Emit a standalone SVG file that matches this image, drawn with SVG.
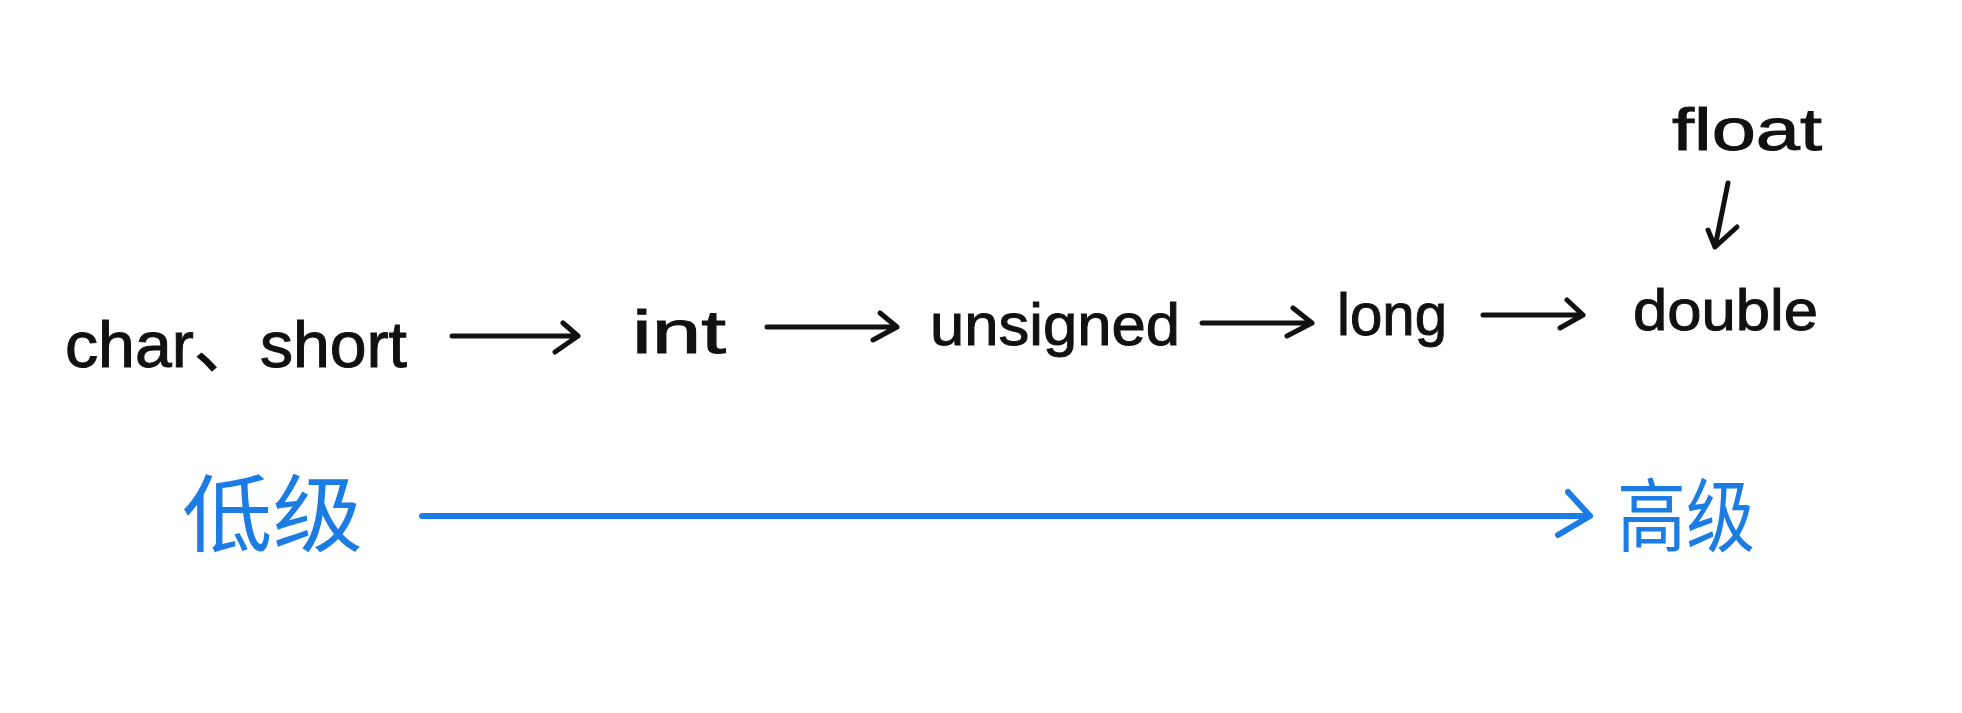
<svg xmlns="http://www.w3.org/2000/svg" width="1962" height="713" viewBox="0 0 1962 713">
<style>
.t{font-family:"Liberation Sans","Noto Sans CJK SC",sans-serif;fill:#111;stroke:#111;stroke-width:1;}
.c{font-family:"Noto Sans CJK SC","Liberation Sans",sans-serif;fill:#1b7ce4;}
.k{fill:none;stroke:#111;stroke-width:5;stroke-linecap:round;stroke-linejoin:round;}
.b{fill:none;stroke:#1b7ce4;stroke-width:6;stroke-linecap:round;stroke-linejoin:round;}
</style>
<rect width="1962" height="713" fill="#fff"/>
<g id="node-char-short"><text class="t" x="65" y="367" font-size="64" textLength="342" lengthAdjust="spacingAndGlyphs">char、short</text></g>
<g id="node-int"><text class="t" x="632" y="353" font-size="62" textLength="94" lengthAdjust="spacingAndGlyphs">int</text></g>
<g id="node-unsigned"><text class="t" x="930" y="345" font-size="60" textLength="250" lengthAdjust="spacingAndGlyphs">unsigned</text></g>
<g id="node-long"><text class="t" x="1337" y="335" font-size="60" textLength="110" lengthAdjust="spacingAndGlyphs">long</text></g>
<g id="node-double"><text class="t" x="1633" y="330" font-size="58" textLength="185" lengthAdjust="spacingAndGlyphs">double</text></g>
<g id="node-float"><text class="t" x="1672" y="150" font-size="60" textLength="150" lengthAdjust="spacingAndGlyphs">float</text></g>
<g id="node-low"><text class="c" x="182" y="545" font-size="84" textLength="181" lengthAdjust="spacingAndGlyphs">低级</text></g>
<g id="node-high"><text class="c" x="1617" y="545" font-size="80" textLength="138" lengthAdjust="spacingAndGlyphs">高级</text></g>
<g id="connectors">
<path class="k" d="M452,336 L578,336 M563,323 L578,336 L555,352"/>
<path class="k" d="M767,327 L897,327 M880,313 L897,327 L873,340"/>
<path class="k" d="M1202,323 L1312,323 M1293,308 L1312,323 L1287,336"/>
<path class="k" d="M1483,315 L1583,315 M1567,300 L1583,315 L1560,328"/>
<path class="k" d="M1728,183 L1715,247 M1708,230 L1715,247 L1737,227"/>
<path class="b" d="M422,516 L1590,516 M1568,492 L1590,516 L1558,535"/>
</g>
</svg>
